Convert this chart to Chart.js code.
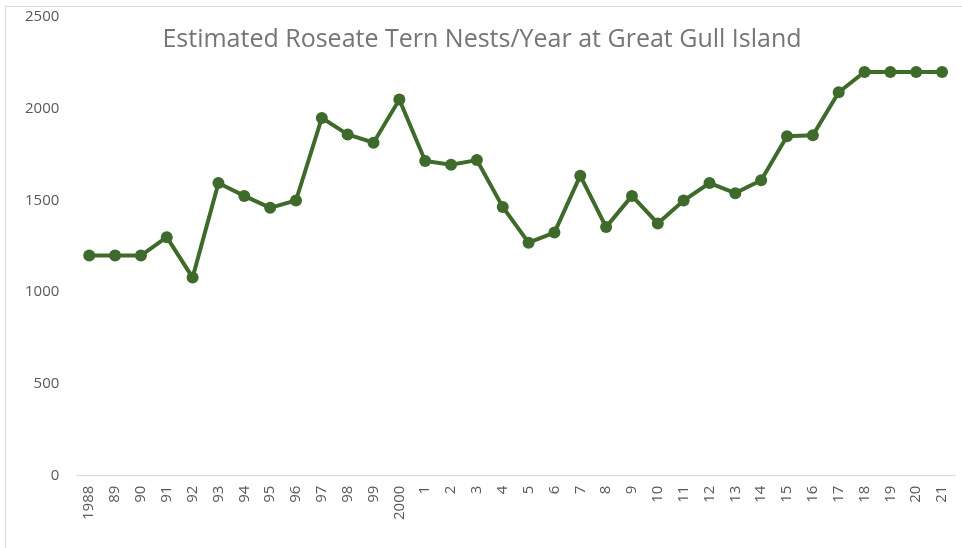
<!DOCTYPE html>
<html>
<head>
<meta charset="utf-8">
<script src="https://cdn.jsdelivr.net/npm/chart.js@4"></script>
<style>
    html, body { margin: 0; padding: 0; background: #fff; overflow: hidden; }
    #wrap { position: relative; width: 962px; height: 548px; }
    #frame { position: absolute; left: 5px; top: 6px; width: 1000px; height: 600px;
             border: 1px solid #d9d9d9; box-sizing: border-box; }
    canvas { position: absolute; left: 0; top: 0; }
</style>
</head>
<body>
<div id="wrap">
    <div id="frame"></div>
    <canvas id="chart" width="962" height="548"></canvas>
</div>
<script>

var title = 'Estimated Roseate Tern Nests/Year at Great Gull Island';

var years = ['1988', '89', '90', '91', '92', '93', '94', '95', '96', '97', '98', '99',
    '2000', '1', '2', '3', '4', '5', '6', '7', '8', '9', '10', '11', '12', '13', '14',
    '15', '16', '17', '18', '19', '20', '21'];

var nests = [1200, 1200, 1200, 1300, 1080, 1595, 1525, 1460, 1500, 1950, 1860, 1815,
    2050, 1715, 1695, 1720, 1465, 1270, 1325, 1635, 1355, 1525, 1375, 1500, 1595, 1540,
    1610, 1850, 1855, 2090, 2200, 2200, 2200, 2200];

var lineColor = '#3e6b2b',
    textColor = '#595959';

// Excel style title that sits over the plot area instead of pushing it down
var overlayTitle = {
    id: 'overlayTitle',
    afterDraw: function(chart) {
        var ctx = chart.ctx;
        ctx.save();
        ctx.font = '25px "Open Sans"';
        ctx.fillStyle = '#757575';
        ctx.textAlign = 'center';
        ctx.textBaseline = 'middle';
        ctx.fillText(title, 482, 40);
        ctx.restore();
    }
};

// the tick padding also pads the plot edges, drop that so layout.padding decides
function noEdgePadding(scale) {
    scale.paddingTop = 0;
    scale.paddingRight = 0;
}

new Chart(document.getElementById('chart').getContext('2d'), {
    type: 'line',
    data: {
        labels: years,
        datasets: [
            {
                label: 'Nests',
                data: nests,
                borderColor: lineColor,
                backgroundColor: lineColor,
                borderWidth: 4,
                pointRadius: 6,
                pointBorderWidth: 0,
                pointBackgroundColor: lineColor,
                tension: 0
            }
        ]
    },
    options: {
        responsive: false,
        animation: false,
        layout: {
            autoPadding: false,
            padding: { left: 8, right: 7, top: 17, bottom: 18 }
        },
        plugins: {
            legend: { display: false },
            tooltip: { enabled: false }
        },
        scales: {
            x: {
                offset: true,
                grid: { display: false, drawTicks: false },
                border: { display: true, color: '#d9d9d9', width: 1 },
                ticks: {
                    color: textColor,
                    font: { family: 'Open Sans', size: 15 },
                    minRotation: 90,
                    maxRotation: 90,
                    autoSkip: false,
                    padding: 10
                },
                afterFit: noEdgePadding
            },
            y: {
                min: 0,
                max: 2500,
                grid: { display: false, drawTicks: false },
                border: { display: false },
                ticks: {
                    stepSize: 500,
                    color: textColor,
                    font: { family: 'Open Sans', size: 15 },
                    padding: 17,
                    callback: function(v) { return String(v); }
                },
                afterFit: noEdgePadding
            }
        }
    },
    plugins: [overlayTitle]
});
</script>
</body>
</html>
